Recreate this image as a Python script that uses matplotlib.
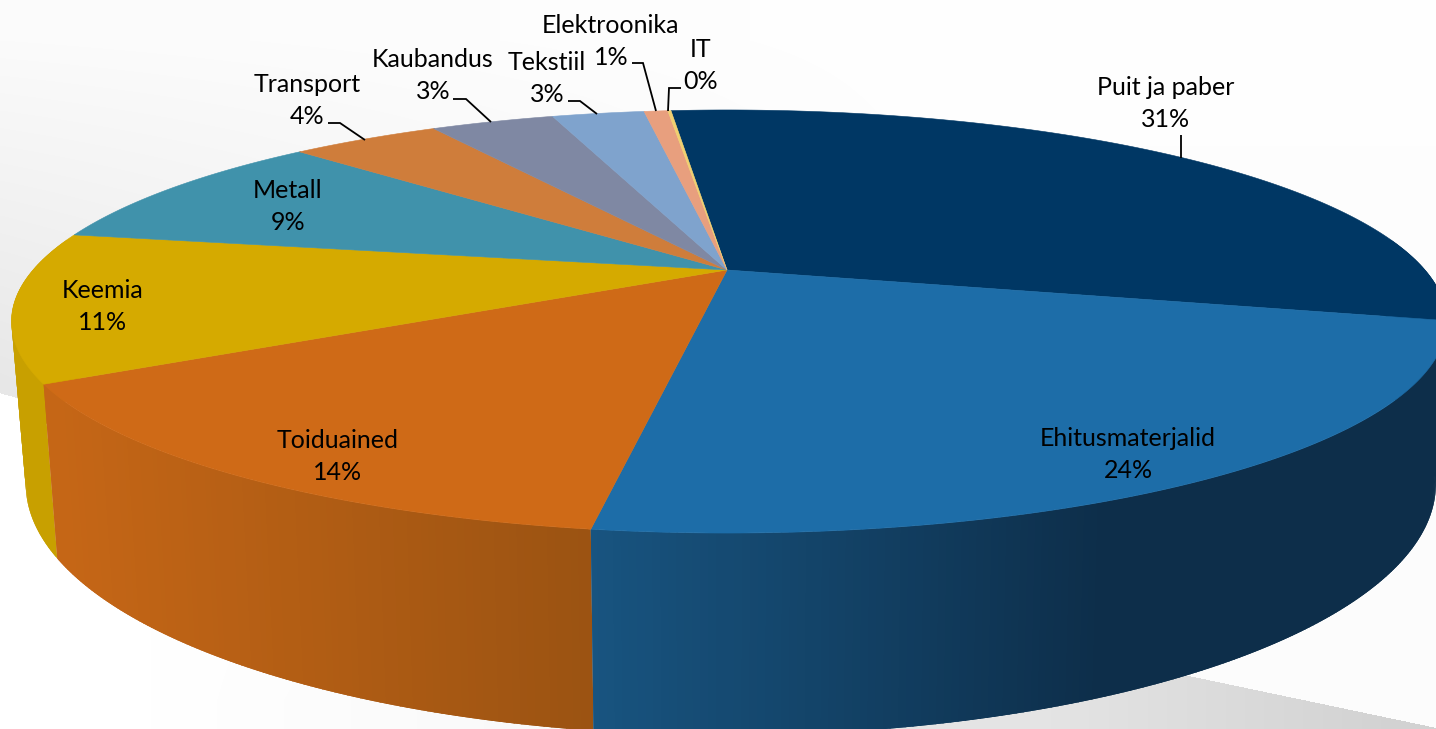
import numpy as np
import matplotlib
matplotlib.use('Agg')
import matplotlib.pyplot as plt

# shares, clockwise from the first slice
categories = ['Puit ja paber', 'Ehitusmaterjalid', 'Toiduained', 'Keemia', 'Metall',
              'Transport', 'Kaubandus', 'Tekstiil', 'Elektroonika', 'IT']
shares = [30.45, 23.53, 14.22, 11.35, 9.26, 4.25, 3.53, 2.64, 0.68, 0.09]
pct_labels = ['31%', '24%', '14%', '11%', '9%', '4%', '3%', '3%', '1%', '0%']

top_colors = ['#003764', '#1D6DA8', '#CF6A17', '#D5AA00', '#4092AB',
              '#CF7D3B', '#7F88A3', '#7FA3CD', '#E89F7E', '#F0D070']
# side colour at left / right end of a slice's wall
side_colors = {0: ((13, 46, 74), (13, 46, 74)),
               1: ((24, 84, 128), (13, 46, 74)),
               2: ((197, 102, 22), (155, 83, 18)),
               3: ((200, 160, 0), (200, 160, 0))}
side_range = {0: (1100, 1440), 1: (595, 1100), 2: (60, 595), 3: (10, 60)}
wall_order = [0, 3, 2, 1]

# label centres in pixels
label_pos = [(1166, 87), (1128, 438), (338, 440), (103, 290), (288, 190),
             (307, 84), (433, 59), (547, 62), (611, 25), (701, 49)]
leaders = [[(1181, 135), (1181, 158)],
           [(328, 123), (340, 123), (365, 140)],
           [(453, 99), (466, 99), (491, 122)],
           [(568, 101), (580, 101), (597, 114)],
           [(632, 63), (643, 63), (656, 111)],
           [(681, 88), (669, 88), (668, 111)]]

W, H = 1436, 729
START = -5.76
K = 0.2435
X0, Y0 = 727, 270
B = 199.0
AL, AR = 694.0, 698.0
WALL = 153.0
SHRINK_L, SHRINK_R = 0.98, 0.985


def project(theta):
    # disc to picture, with the perspective of the tilted pie
    t = np.radians(theta)
    u, v = np.sin(t), np.cos(t)
    w = 1 + K * v
    a = np.where(u < 0, AL, AR)
    return X0 + a * u / w, Y0 - B * v / w, w


def project_low(theta):
    # same circle on the bottom of the wall
    x, y, w = project(theta)
    s = np.where(x < X0, SHRINK_L, SHRINK_R)
    return X0 + (x - X0) * s, y + WALL / w


def background():
    yy, xx = np.mgrid[0:H, 0:W].astype(float)
    g = 255 - 6.0 * np.clip((xx - 150) / 400, 0, 1) * np.clip((yy - 450) / 250, 0, 1)
    upper = yy < 393 + 0.27 * xx
    shade = 4 + 20 * np.clip((yy - 40) / 350, 0, 1)
    shade = shade * np.clip(1 - xx / 1000, 0.1, 1)
    g = np.where(upper, 255 - shade, g)
    wedge = (yy > 675 + (xx - 1186) * 0.21) & (xx > 595)
    g = np.where(wedge, 228 - 18 * np.clip((xx - 1050) / 350, 0, 1), g)
    return np.dstack([g, g, g]).astype(np.uint8)


fig = plt.figure(figsize=(W / 100, H / 100), dpi=100)
ax = fig.add_axes([0, 0, 1, 1])
ax.imshow(background(), extent=(0, W, H, 0), interpolation='bilinear', zorder=0)

edges = START + np.cumsum([0] + shares) * 3.6

# walls first, the top faces go over them
for i in wall_order:
    steps = np.append(np.arange(edges[i], edges[i + 1], 0.5), edges[i + 1])
    lo, hi = side_range[i]
    pairs = [(a, b) for a, b in zip(steps[:-1], steps[1:]) if np.cos(np.radians(min(a, b))) < 0.15
             or np.cos(np.radians(max(a, b))) < 0.15]
    # back of the wall first, so the front part stays on top
    pairs.sort(key=lambda p: -np.cos(np.radians((p[0] + p[1]) / 2)))
    for t1, t2 in pairs:
        # a bit of overlap between strips hides the seams
        arc = np.linspace(t1 - 0.3, t2 + 0.3, 4)
        arc = np.clip(arc, edges[i], edges[i + 1])
        x, y, _ = project(arc)
        bx, by = project_low(arc)
        f = np.clip((x.mean() - lo) / (hi - lo), 0, 1)
        c = (1 - f) * np.array(side_colors[i][0]) + f * np.array(side_colors[i][1])
        ax.fill(np.r_[x, bx[::-1]], np.r_[y, by[::-1]], color=c / 255, lw=0, zorder=2)

for i in range(len(shares)):
    arc = np.linspace(edges[i], edges[i + 1], 200)
    x, y, _ = project(arc)
    ax.fill(np.r_[X0, x], np.r_[Y0, y], color=top_colors[i], lw=0.4, zorder=3)

for line in leaders:
    xs, ys = zip(*line)
    ax.plot(xs, ys, color='black', lw=1.3, zorder=4, solid_capstyle='butt', solid_joinstyle='miter')

for name, pct, (lx, ly) in zip(categories, pct_labels, label_pos):
    ax.text(lx, ly, name, ha='center', va='center', fontsize=18, family='Lato', color='black', zorder=5)
    ax.text(lx, ly + 32, pct, ha='center', va='center', fontsize=18, family='Lato', color='black', zorder=5)

ax.set_xlim(0, W)
ax.set_ylim(H, 0)
ax.axis('off')
fig.savefig('out.png', dpi=100)
